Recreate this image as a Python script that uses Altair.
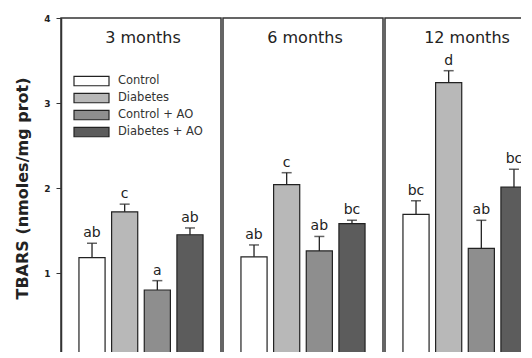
import altair as alt
import pandas as pd

months = ["3 months", "6 months", "12 months"]
groups = ["Control", "Diabetes", "Control + AO", "Diabetes + AO"]
colors = ["#ffffff", "#b8b8b8", "#8e8e8e", "#5c5c5c"]

mean_3 = [1.18, 1.72, 0.80, 1.45]
mean_6 = [1.19, 2.04, 1.26, 1.58]
mean_12 = [1.69, 3.24, 1.29, 2.01]
err_3 = [0.17, 0.09, 0.11, 0.08]
err_6 = [0.14, 0.14, 0.17, 0.04]
err_12 = [0.16, 0.14, 0.33, 0.21]
letters_3 = ["ab", "c", "a", "ab"]
letters_6 = ["ab", "c", "ab", "bc"]
letters_12 = ["bc", "d", "ab", "bc"]

means = [mean_3, mean_6, mean_12]
errs = [err_3, err_6, err_12]
letters = [letters_3, letters_6, letters_12]

FONT = "DejaVu Sans"
H = 340
W = 160


def panel(i):
    df = pd.DataFrame({
        "group": groups,
        "mean": means[i],
        "top": [m + e for m, e in zip(means[i], errs[i])],
        "letter": letters[i],
    })
    xenc = alt.X("group:N", sort=groups, axis=None,
                 scale=alt.Scale(paddingInner=0.2, paddingOuter=0.55))
    if i == 0:
        yaxis = alt.Axis(values=[0, 1, 2, 3, 4], format="d", grid=False,
                         title="TBARS (nmoles/mg prot)",
                         titleFont=FONT, titleFontSize=16, titleFontWeight="bold",
                         titleColor="#222", titlePadding=13,
                         labelFont=FONT, labelFontSize=9, labelFontWeight="bold",
                         labelColor="#222", labelPadding=6, tickSize=5,
                         tickColor="#333", domainColor="#333", domainWidth=1.5)
    else:
        yaxis = None
    yscale = alt.Scale(domain=[0, 4], nice=False)
    base = alt.Chart(df)
    bars = base.mark_bar(stroke="#222", strokeWidth=1.2).encode(
        x=xenc,
        y=alt.Y("mean:Q", scale=yscale, axis=yaxis),
        fill=alt.Fill("group:N", sort=groups,
                      scale=alt.Scale(domain=groups, range=colors),
                      legend=alt.Legend(
                          title=None, orient="none", legendX=12, legendY=57,
                          symbolType="M-1,-0.27H1V0.27H-1Z", symbolSize=1225,
                          symbolStrokeColor="#222", symbolStrokeWidth=1.2,
                          clipHeight=12, rowPadding=5, labelOffset=8,
                          labelFont=FONT, labelFontSize=11.5, labelColor="#333")),
    )
    rule = base.mark_rule(color="#222", strokeWidth=1.3).encode(
        x=xenc, y="mean:Q", y2="top:Q")
    cap = base.mark_tick(color="#222", thickness=1.5, size=10, orient="horizontal").encode(
        x=xenc, y="top:Q")
    txt = base.mark_text(font=FONT, fontSize=14, color="#222", baseline="bottom", dy=-3).encode(
        x=xenc, y="top:Q", text="letter:N")
    title = alt.Chart(pd.DataFrame({"t": [months[i]]})).mark_text(
        font=FONT, fontSize=16, color="#222", baseline="middle").encode(
        x=alt.value(W / 2 + 2), y=alt.value(20), text="t:N")
    return alt.layer(bars, rule, cap, txt, title).properties(width=W, height=H)


chart = alt.hconcat(panel(0), panel(1), panel(2), spacing=0).configure_view(
    stroke="#333", strokeWidth=1.5
).properties(padding={"left": 5, "top": 5, "right": -25, "bottom": -12})

chart.save("out.html", embed_options={"renderer": "svg", "actions": False})
